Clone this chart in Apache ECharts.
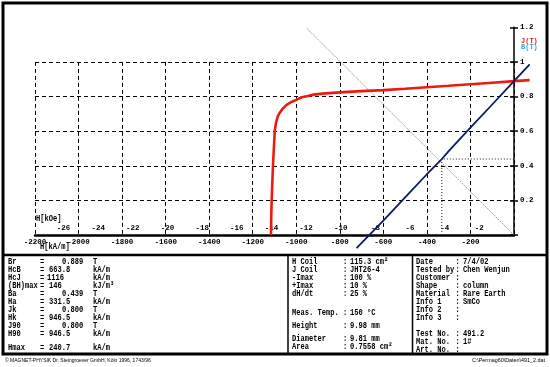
<!DOCTYPE html>
<html><head><meta charset="utf-8">
<script src="https://cdn.jsdelivr.net/npm/echarts@6/dist/echarts.min.js"></script>
<style>html,body{margin:0;padding:0;background:#fff}#c{width:550px;height:367px}</style>
</head><body><div id="c"></div>
<script>
// ---- data ----
const hJ = [-1116, -1115, -1113, -1110, -1107, -1103, -1099, -1093, -1085, -1075, -1062, -1046, -1025, -1000, -975, -946.5, -920, -880, -800, -700, -600, -500, -400, -300, -200, -100, 0, 72];
const jVals = [0, 0.1, 0.2, 0.3, 0.4, 0.5, 0.6, 0.65, 0.685, 0.708, 0.73, 0.75, 0.767, 0.781, 0.796, 0.803, 0.811, 0.817, 0.824, 0.831, 0.837, 0.845, 0.854, 0.862, 0.871, 0.88, 0.889, 0.895];
const hB = [-723, -663.8, -600, -500, -400, -331.5, -300, -200, -100, 0, 72];
const bVals = [-0.076, 0, 0.083, 0.217, 0.351, 0.439, 0.485, 0.62, 0.754, 0.889, 0.986];
const loadH = [-952, 0];
const loadB = [1.195, 0];
const bhH = [-331.5, -331.5, 0];
const bhB = [0, 0.439, 0.439];
const kOeTicks = [-26, -24, -22, -20, -18, -16, -14, -12, -10, -8, -6, -4, -2];
const seriesNames = ['J(T)', 'B(T)'];

const leftLabels = ['Br', 'HcB', 'HcJ', '(BH)max', 'Ba', 'Ha', 'Jk', 'Hk', 'J90', 'H90', 'Hmax'];
const leftValues = ['0.889', '663.8', '1116', '146', '0.439', '331.5', '0.800', '946.5', '0.800', '946.5', '240.7'];
const leftUnits = ['T', 'kA/m', 'kA/m', 'kJ/m³', 'T', 'kA/m', 'T', 'kA/m', 'T', 'kA/m', 'kA/m'];
const midLabels = ['H Coil', 'J Coil', '-Imax', '+Imax', 'dH/dt', 'Meas. Temp.', 'Height', 'Diameter', 'Area'];
const midValues = ['115.3 cm²', 'JHT26-4', '100 %', '10 %', '25 %', '150 °C', '9.98 mm', '9.81 mm', '0.7558 cm²'];
const rightLabels = ['Date', 'Tested by', 'Customer', 'Shape', 'Material', 'Info 1', 'Info 2', 'Info 3', 'Test No.', 'Mat. No.', 'Art. No.'];
const rightValues = ['7/4/02', 'Chen Wenjun', '', 'column', 'Rare Earth', 'SmCo', '', '', '491.2', '1#', ''];
const footLeft = '© MAGNET-PHYSIK Dr. Steingroever GmbH, Köln 1996, 1743/96';
const footRight = 'C:\\Permag60\\Daten\\491_2.dat';

// ---- layout ----
const MONO = '"Liberation Mono", "DejaVu Sans Mono", monospace';
const F = 'bold 7.1px ' + MONO;
const leftY = [262, 270, 278, 286, 294, 302, 310, 318, 326, 334, 348];
const midY = [262, 270, 278, 286, 294, 313, 326, 339, 347];
const rightY = [262, 270, 278, 286, 294, 302, 310, 318, 334, 342, 350];

function txt(t, x, y, font, fill, align, sy) {
  return {type: 'text', silent: true, z: 50, x: x, y: y, scaleY: sy || 1.3,
    style: {text: t, x: 0, y: 0, font: font || F, fill: fill || '#000', textAlign: align || 'left', textVerticalAlign: 'middle'}};
}
const g = [];
g.push({type: 'rect', shape: {x: 3, y: 3, width: 544, height: 351}, style: {fill: 'none', stroke: '#000', lineWidth: 3}, z: 40});
g.push({type: 'line', shape: {x1: 3, y1: 255, x2: 547, y2: 255}, style: {stroke: '#000', lineWidth: 2.5}, z: 40});
g.push({type: 'line', shape: {x1: 288, y1: 255, x2: 288, y2: 354}, style: {stroke: '#000', lineWidth: 1.5}, z: 40});
g.push({type: 'line', shape: {x1: 412.5, y1: 255, x2: 412.5, y2: 354}, style: {stroke: '#000', lineWidth: 1.5}, z: 40});
leftLabels.forEach((l, i) => {
  g.push(txt(l, 8, leftY[i]));
  g.push(txt('=', 40, leftY[i]));
  const vx = leftValues[i].startsWith('0.') ? 62 : (leftValues[i].length === 4 ? 47 : 49);
  g.push(txt(leftValues[i], vx, leftY[i]));
  g.push(txt(leftUnits[i], 93, leftY[i]));
});
midLabels.forEach((l, i) => {
  g.push(txt(l, 292, midY[i]));
  g.push(txt(':', 343, midY[i]));
  g.push(txt(midValues[i], 350, midY[i]));
});
rightLabels.forEach((l, i) => {
  g.push(txt(l, 416, rightY[i]));
  g.push(txt(':', 455.5, rightY[i]));
  g.push(txt(rightValues[i], 463, rightY[i]));
});
g.push(txt(footLeft, 5, 361, '5px "Liberation Sans", sans-serif', '#000', 'left', 1));
g.push(txt(footRight, 545, 361, '5.4px "Liberation Sans", sans-serif', '#000', 'right', 1));
g.push(txt('H[kOe]', 36, 219));
g.push(txt('H[kA/m]', 40, 247));
g.push(txt(seriesNames[0], 521, 41, 'bold 7px ' + MONO, '#e8180c', 'left', 1.1));
g.push(txt(seriesNames[1], 521, 47.5, 'bold 7px ' + MONO, '#2aa6e0', 'left', 1.1));

const lblStyle = {fontFamily: MONO, fontSize: 7.5, fontWeight: 'bold', color: '#000'};
const dashed = {type: [4, 3], color: '#000', width: 1};
const zip = (a, b) => a.map((v, i) => [v, b[i]]);
const hidden = {axisLine: {show: false}, axisTick: {show: false}, axisLabel: {show: false}, splitLine: {show: false}};

const option = {
  animation: false,
  backgroundColor: '#fff',
  grid: [
    {left: 35, right: 36, top: 27.3, bottom: 132},
    {left: 35, right: 36, top: 61.9, bottom: 132},
    {left: 35, right: 18.6, top: 27.3, bottom: 114.7}
  ],
  xAxis: [
    {gridIndex: 0, type: 'value', min: -2200, max: 0, interval: 200, position: 'bottom',
     axisLine: {show: true, onZero: false, lineStyle: {color: '#000', width: 2.5}},
     axisTick: {show: false},
     axisLabel: Object.assign({margin: 3, formatter: v => v === 0 ? '' : String(v)}, lblStyle),
     splitLine: {show: false}},
    {gridIndex: 0, type: 'value', min: -2200 / 79.5775, max: 0, position: 'bottom',
     axisLine: {show: false}, axisTick: {show: false},
     axisLabel: Object.assign({inside: true, margin: 3, customValues: kOeTicks}, lblStyle),
     splitLine: {show: false}},
    {gridIndex: 1, type: 'value', min: -2200, max: 0, interval: 200,
     axisLine: {show: false}, axisTick: {show: false}, axisLabel: {show: false},
     splitLine: {show: true, lineStyle: dashed}},
    Object.assign({gridIndex: 2, type: 'value', min: -2200, max: 80}, hidden)
  ],
  yAxis: [
    {gridIndex: 0, type: 'value', position: 'right', min: 0, max: 1.2, interval: 0.2,
     axisLine: {show: true, onZero: false, lineStyle: {color: '#000', width: 1.5}},
     axisTick: {show: true, length: 4, lineStyle: {color: '#000', width: 1.5}},
     axisLabel: Object.assign({margin: 6, formatter: v => v === 0 ? '' : String(+v.toFixed(1))}, lblStyle),
     splitLine: {show: false}},
    {gridIndex: 0, type: 'value', position: 'right', min: 0, max: 1.2, interval: 0.2,
     axisLine: {show: false}, axisTick: {show: true, inside: true, length: 4, lineStyle: {color: '#000', width: 1.5}},
     axisLabel: {show: false}, splitLine: {show: false}},
    {gridIndex: 1, type: 'value', min: 0, max: 1, interval: 0.2,
     axisLine: {show: false}, axisTick: {show: false}, axisLabel: {show: false},
     splitLine: {show: true, lineStyle: dashed}},
    Object.assign({gridIndex: 2, type: 'value', min: -0.1, max: 1.2}, hidden)
  ],
  series: [
    {name: 'load', type: 'line', xAxisIndex: 3, yAxisIndex: 3, data: zip(loadH, loadB), showSymbol: false,
     lineStyle: {color: '#8a8a8a', width: 0.8, type: [2, 1]}, z: 2, silent: true},
    {name: 'bh', type: 'line', xAxisIndex: 3, yAxisIndex: 3, data: zip(bhH, bhB), showSymbol: false,
     lineStyle: {color: '#222', width: 1, type: [1, 2]}, z: 2, silent: true},
    {name: seriesNames[0], type: 'line', xAxisIndex: 3, yAxisIndex: 3, data: zip(hJ, jVals), showSymbol: false,
     lineStyle: {color: '#ee1a0e', width: 2.6}, z: 5},
    {name: seriesNames[1], type: 'line', xAxisIndex: 3, yAxisIndex: 3, data: zip(hB, bVals), showSymbol: false,
     lineStyle: {color: '#0c1a6a', width: 1.8}, z: 6}
  ],
  graphic: g
};
const chart = echarts.init(document.getElementById('c'), null, {renderer: 'canvas'});
chart.setOption(option);
</script></body></html>
